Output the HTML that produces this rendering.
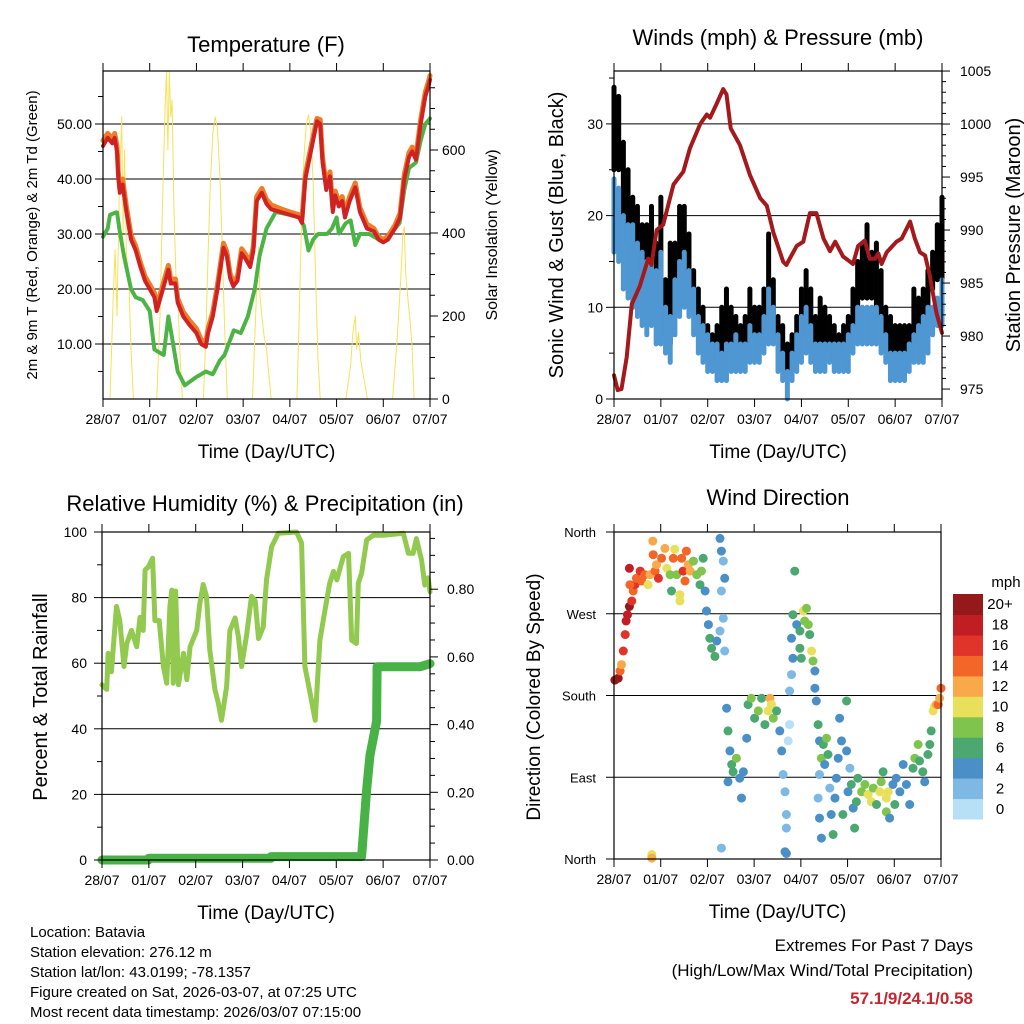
<!DOCTYPE html>
<html><head><meta charset="utf-8">
<style>
html,body{margin:0;padding:0;background:#fff;}
svg{display:block;font-family:"Liberation Sans",Arial,sans-serif;}
</style></head>
<body>
<svg id="chart" width="1024" height="1024" viewBox="0 0 1024 1024" xmlns="http://www.w3.org/2000/svg">
<rect x="0" y="0" width="1024" height="1024" fill="#fff"/>
<g font-size="15" fill="#000">
<text x="30" y="937">Location: Batavia</text>
<text x="30" y="957">Station elevation: 276.12 m</text>
<text x="30" y="977">Station lat/lon: 43.0199; -78.1357</text>
<text x="30" y="997">Figure created on Sat, 2026-03-07, at 07:25 UTC</text>
<text x="30" y="1017">Most recent data timestamp: 2026/03/07 07:15:00</text>
</g>
<g font-size="17" text-anchor="end">
<text x="973" y="951">Extremes For Past 7 Days</text>
<text x="973" y="976">(High/Low/Max Wind/Total Precipitation)</text>
<text x="973" y="1004" fill="#c1272d" font-weight="bold">57.1/9/24.1/0.58</text>
</g>
</svg>
<script>
// ---------- DATA ----------
const dayLabels=["28/07","01/07","02/07","03/07","04/07","05/07","06/07","07/07"];
// Temperature
const tempT=[0,0.1,0.2,0.25,0.3,0.33,0.36,0.42,0.5,0.6,0.7,0.8,0.9,1.0,1.1,1.15,1.25,1.35,1.4,1.45,1.55,1.6,1.72,1.85,2.0,2.1,2.2,2.25,2.35,2.45,2.58,2.65,2.72,2.79,2.88,2.97,3.05,3.15,3.22,3.29,3.4,3.5,3.6,3.8,4.0,4.2,4.26,4.33,4.45,4.58,4.65,4.7,4.78,4.86,4.92,4.97,5.05,5.12,5.18,5.28,5.4,5.5,5.65,5.8,5.9,6.0,6.1,6.25,6.36,6.45,6.55,6.62,6.7,6.8,6.9,6.97,7.0];
const tempRed=[46,47.5,46.5,47.5,45,40,37.5,39,34,29,27,24,21.5,20,18.5,16,19,22,23.5,21,21,17.5,15,13.5,12,10,9.5,12,15,20,27.5,26,22,20.5,21.5,26.5,25.5,24,27,36,37.5,35.5,34.5,34,33.5,33,32,40,45,50.5,50,43,38,40.5,34,37,35,36,33,36,38.5,34,31,30.5,29,28.5,29,31,33,40,44,45,43.5,50,55,57,58];
const tempOrange=[47,48.3,47.3,48.3,46,41,38.3,40,35,29.8,27.8,24.8,22.3,20.8,19.3,16.8,19.8,22.8,24.3,21.8,21.8,18.3,15.8,14.3,12.8,10.8,10.3,12.8,15.8,20.8,28.3,26.8,22.8,21.3,22.3,27.3,26.3,24.8,27.8,36.8,38.3,36.3,35.3,34.6,34,33.5,32.8,40.8,45.8,51,50.8,43.8,38.8,41.3,34.8,37.8,35.8,36.8,33.8,36.8,39.3,34.8,31.8,31,29.5,29,29.6,31.6,33.8,40.8,44.8,45.8,44.3,50.8,55.8,57.8,58.8];
const dewT=[0,0.1,0.15,0.3,0.35,0.45,0.6,0.7,0.85,1.0,1.1,1.3,1.4,1.5,1.6,1.75,2.0,2.2,2.35,2.5,2.6,2.8,2.95,3.1,3.25,3.35,3.5,3.7,4.0,4.2,4.3,4.4,4.5,4.6,4.8,4.9,5.0,5.05,5.2,5.3,5.4,5.5,5.7,5.9,6.0,6.2,6.35,6.45,6.55,6.7,6.8,6.9,7.0];
const dewVals=[29.5,31,33.5,34,31,26,20,18.5,18,16,9,8,15,10,5,2.5,4,5,4.5,7,8,12.5,12,15,20,26,31,34,33.5,33,31.5,27,29,30,30,31,33,30,32,32.5,28,30,30,29,28.5,30.5,32,38,42,43,47,50,51];
const solarT=[0,0.15,0.22,0.26,0.3,0.35,0.4,0.43,0.46,0.5,0.55,0.6,0.65,1.15,1.22,1.28,1.33,1.36,1.39,1.42,1.45,1.48,1.52,1.56,1.6,1.65,1.7,2.15,2.2,2.25,2.3,2.35,2.4,2.45,2.5,2.55,2.6,2.66,3.2,3.25,3.3,3.33,3.36,3.4,3.45,3.5,3.55,3.6,4.15,4.2,4.25,4.3,4.35,4.4,4.45,4.5,4.55,4.6,4.65,5.2,5.3,5.35,5.4,5.43,5.47,5.52,5.6,5.66,6.2,6.3,6.38,6.42,6.45,6.48,6.52,6.58,6.62,6.66,7.0];
const solarVals=[0,0,250,360,200,500,680,400,600,350,300,120,0,0,200,500,700,790,600,790,680,720,450,300,250,100,0,0,150,350,520,640,680,650,540,380,180,0,0,150,300,365,250,200,150,120,60,0,0,200,420,580,660,685,640,520,300,100,0,0,80,160,200,120,160,90,40,0,0,150,300,400,415,300,250,180,120,0,0];
// Winds & pressure
const windT=[0,0.1,0.2,0.3,0.4,0.5,0.6,0.7,0.8,0.9,1.0,1.1,1.2,1.3,1.4,1.5,1.6,1.7,1.8,1.9,2.0,2.1,2.2,2.3,2.4,2.5,2.6,2.7,2.8,2.9,3.0,3.1,3.2,3.3,3.4,3.5,3.6,3.7,3.8,3.9,4.0,4.1,4.2,4.3,4.4,4.5,4.6,4.7,4.8,4.9,5.0,5.1,5.2,5.3,5.4,5.5,5.6,5.7,5.8,5.9,6.0,6.1,6.2,6.3,6.4,6.5,6.6,6.7,6.8,6.9,7.0];
const windLo=[16,15,12,11,10,9,8,7,8,6,6,5,4,7,9,10,9,7,5,4,3,3,2,2,2,3,3,3,3,4,4,4,5,6,6,3,2,0,2,3,4,5,4,3,3,3,4,3,3,3,3,5,6,6,6,6,6,5,4,2,2,2,2,3,4,4,4,5,7,8,8];
const windHi=[24,23,20,19,19,17,16,15,15,14,16,10,9,13,15,16,14,12,9,8,7,6,6,5,6,6,7,6,6,8,7,7,9,12,10,7,5,3,5,7,9,10,8,6,6,6,6,6,6,6,7,8,10,10,10,10,10,9,7,5,5,5,5,6,7,8,9,10,10,11,13];
const gustLo=[25,25,20,17,16,15,13,12,12,10,10,7,6,10,14,16,13,10,8,7,5,5,4,5,6,6,6,4,5,7,7,6,8,9,8,5,4,3,4,5,7,8,7,5,6,6,5,5,5,5,6,8,10,11,11,11,10,9,6,5,5,5,4,5,6,7,7,9,12,13,12];
const gustHi=[34,33,28,25,22,21,19,19,21,17,22,13,17,17,21,21,18,14,12,10,8,7,8,10,12,10,9,8,9,12,10,10,12,18,13,9,8,6,7,9,12,14,12,9,11,10,9,8,7,8,9,12,15,17,19,16,17,14,10,9,8,8,8,8,12,11,12,14,16,19,22];
const presT=[0,0.08,0.16,0.27,0.38,0.55,0.73,0.8,0.91,1.05,1.27,1.48,1.62,1.84,1.98,2.05,2.19,2.33,2.4,2.49,2.69,2.9,3.12,3.26,3.4,3.61,3.68,3.75,3.9,4.04,4.18,4.32,4.47,4.61,4.72,4.89,5.04,5.1,5.21,5.35,5.46,5.57,5.64,5.71,5.82,6.03,6.14,6.32,6.42,6.53,6.64,6.74,6.88,7.0];
const presVals=[976.3,974.9,975,978,983,984.7,987.3,986.7,990,990.5,994.3,995.5,997.7,1000,1000.9,1000.6,1001.9,1003.3,1002.8,999.6,998,995.2,993,992.3,989.8,987,986.7,987.3,988.5,988.9,991.6,991.6,989.2,988,988.9,987.5,987,986.8,988.5,989,987.3,987.3,987.8,986.8,987.9,988.9,989.2,990.8,989.2,987.9,987.6,985.7,982.2,980.3];
// RH & precip
const rhT=[0,0.1,0.13,0.2,0.31,0.38,0.47,0.53,0.63,0.74,0.81,0.88,0.92,0.99,1.08,1.13,1.22,1.31,1.38,1.45,1.49,1.52,1.57,1.63,1.74,1.81,1.88,2.02,2.09,2.16,2.23,2.3,2.41,2.48,2.55,2.66,2.73,2.84,2.91,2.98,3.09,3.19,3.27,3.34,3.44,3.51,3.62,3.76,4.15,4.26,4.33,4.44,4.55,4.65,4.76,4.86,4.94,5.01,5.15,5.26,5.33,5.43,5.47,5.54,5.65,5.79,6.0,6.43,6.54,6.64,6.71,6.82,6.89,6.96,7.0];
const rhVals=[53.4,52,63,57.4,77.3,73,59,66,70,65,74,70,88.4,89.4,92,73,73,59,53.9,77.3,82.3,53.9,82,53.4,63,55,65,70,78.3,84,80.4,64,52,48,42.6,52.8,70,73.8,68,59,69,80.4,79,67.5,71,85.4,95.5,99.6,100,96.6,59,51,42.6,67,76.2,84.4,88,85.4,92.5,93.5,67,66,84.4,87.4,97.6,99,99,99.6,93.5,93.5,98,91.4,83.8,86,81.8];
const prT=[0,0.99,1.0,3.6,3.61,5.54,5.65,5.72,5.86,5.87,6.0,6.79,7.0];
const prVals=[0,0,0.005,0.005,0.01,0.01,0.21,0.31,0.41,0.571,0.571,0.571,0.58];
// Wind direction scatter
const wdT=[0.02,0.09,0.13,0.16,0.2,0.24,0.26,0.29,0.33,0.38,0.41,0.45,0.34,0.33,0.48,0.56,0.59,0.66,0.73,0.77,0.83,0.84,0.88,0.91,0.95,1.02,1.09,1.13,1.2,1.23,1.27,1.3,1.34,1.41,1.41,1.45,1.48,1.52,1.55,1.59,1.63,1.7,1.77,1.84,1.91,1.87,1.95,1.98,2.02,2.05,2.09,2.16,2.2,2.27,2.3,2.34,2.37,2.3,2.34,2.27,2.37,2.41,2.44,2.48,2.52,2.44,2.55,2.62,2.69,2.73,2.77,2.84,2.87,2.94,3.01,3.09,3.16,3.23,3.3,3.34,3.37,3.41,3.48,3.55,3.59,3.62,3.66,3.69,3.69,3.69,3.76,3.76,3.8,3.73,3.83,3.8,3.83,3.87,3.91,3.98,4.05,4.08,4.12,4.16,3.98,4.01,4.19,4.23,4.26,4.3,4.3,4.33,4.37,4.4,4.44,4.48,4.51,4.55,4.58,4.4,4.37,4.4,4.44,4.62,4.65,4.69,4.73,4.76,4.8,4.83,4.87,4.9,4.98,4.98,5.01,5.05,5.08,5.12,5.15,5.19,5.22,5.3,5.37,5.44,5.51,5.55,5.62,5.69,5.72,5.76,5.83,5.83,5.87,5.9,5.97,6.01,6.04,6.12,6.19,6.26,6.33,6.4,6.44,6.51,6.54,6.61,6.65,6.72,6.76,6.79,6.83,6.86,6.9,6.94,6.97,7.0,0.81,0.81,2.3,3.66];
const wdDir=[197,199,207,214,229,247,262,269,278,284,295,302,302,320,309,317,306,313,302,313,350,335,317,324,309,331,342,320,313,295,331,341,313,291,284,331,317,306,339,324,317,328,313,302,331,317,295,273,258,243,232,223,240,353,339,328,309,295,265,251,229,166,141,119,104,85,96,111,89,67,96,133,170,177,155,163,177,148,163,177,170,155,163,141,119,93,74,49,34,6,148,185,203,130,221,243,269,317,258,251,273,262,276,258,232,221,247,229,218,207,188,174,148,130,111,126,104,133,115,93,67,45,23,78,49,27,67,89,111,155,130,49,174,119,74,100,82,56,34,63,89,74,82,71,63,78,60,74,85,96,52,67,74,45,82,60,89,74,104,82,60,100,111,126,108,96,85,115,126,141,163,168,170,170,177,188,5,1,12,8];
const wdSpd=[20,20,14,12,16,16,18,18,20,16,14,16,14,18,14,16,14,14,10,12,12,14,14,12,16,14,12,10,8,6,14,10,8,10,10,14,16,14,14,12,12,8,8,6,6,8,4,4,4,6,6,6,4,4,4,2,4,2,2,2,2,4,6,4,6,4,6,8,4,4,4,4,6,8,6,8,6,6,10,12,10,8,6,4,4,2,2,2,2,4,0,2,2,0,4,4,6,6,4,6,10,8,8,8,6,6,6,10,8,4,4,4,6,4,8,6,4,8,6,2,2,4,4,2,4,6,4,4,4,4,4,6,6,4,4,2,6,4,6,6,6,8,8,10,10,8,6,10,8,6,8,10,10,4,4,6,4,4,4,4,4,6,8,8,6,6,4,6,6,6,10,10,12,14,12,14,10,12,2,4];
const speedColors=["#b7e0f6","#7db9e4","#4a8fc6","#4ba870","#7fc44d","#e8e05a","#f9a94a","#f26728","#e0332a","#c11d24","#95181b"];
const speedLabels=["0","2","4","6","8","10","12","14","16","18","20+"];

// ---------- DRAW ----------
const NS="http://www.w3.org/2000/svg";
const svg=document.getElementById("chart");
function mk(tag,parent){const e=document.createElementNS(NS,tag);parent.appendChild(e);return e;}
function line(p,x1,y1,x2,y2,st,w){const l=mk("line",p);l.setAttribute("x1",x1);l.setAttribute("y1",y1);l.setAttribute("x2",x2);l.setAttribute("y2",y2);l.setAttribute("stroke",st||"#000");l.setAttribute("stroke-width",w||1);return l;}
function txt(p,x,y,s,size,anchor,rot){const t=mk("text",p);t.setAttribute("x",x);t.setAttribute("y",y);t.setAttribute("font-size",size);t.setAttribute("text-anchor",anchor||"middle");if(rot)t.setAttribute("transform","rotate(-90 "+x+" "+y+")");t.textContent=s;return t;}
function poly(p,xs,ys,fx,fy,color,w,dash){const pl=mk("polyline",p);pl.setAttribute("points",xs.map((v,i)=>fx(v).toFixed(1)+","+fy(ys[i]).toFixed(1)).join(" "));pl.setAttribute("fill","none");pl.setAttribute("stroke",color);pl.setAttribute("stroke-width",w);pl.setAttribute("stroke-linejoin","round");pl.setAttribute("stroke-linecap","round");if(dash)pl.setAttribute("stroke-dasharray",dash);return pl;}

function frame(g,L,R,T,B,xf){
  const r=mk("rect",g);r.setAttribute("x",L);r.setAttribute("y",T);r.setAttribute("width",R-L);r.setAttribute("height",B-T);r.setAttribute("fill","none");r.setAttribute("stroke","#000");r.setAttribute("stroke-width","1.2");
  dayLabels.forEach((lab,i)=>{const x=xf(i);line(g,x,B,x,B+8);line(g,x,T,x,T-8);
    const t=txt(g,x,B+25,lab,14);
    
    });
  const xt=txt(g,(L+R)/2,B+59,"Time (Day/UTC)",19);
  
  
}

// Panel 1: Temperature
(function(){
  const g=mk("g",svg);
  
  
  const L=103,R=430,T=71,B=399;
  const x=d=>L+d*(R-L)/7, yT=v=>B-v*5.5, yS=v=>B-v*0.415;
  [10,20,30,40,50].forEach(v=>{line(g,L,yT(v),R,yT(v),"#000",1);});
  poly(g,solarT,solarVals,x,yS,"#f7e15a",1);
  poly(g,dewT,dewVals,x,yT,"#4cb445",4,"3 1.5");
  poly(g,tempT,tempOrange,x,yT,"#f07c28",5);
  poly(g,tempT,tempRed,x,yT,"#cf2222",4);
  frame(g,L,R,T,B,x);
  [10,20,30,40,50].forEach(v=>{line(g,L-8,yT(v),L,yT(v));const t=txt(g,L-11,yT(v)+5,v.toFixed(2),14,"end");
    
    });
  [5,15,25,35,45,55].forEach(v=>line(g,L-5,yT(v),L,yT(v)));
  [0,200,400,600].forEach(v=>{line(g,R,yS(v),R+8,yS(v));const t=txt(g,R+12,yS(v)+5,String(v),14,"start");
    
    });
  for(let v=50;v<790;v+=50){if(v%200)line(g,R,yS(v),R+5,yS(v));}
  const t1=txt(g,266,52,"Temperature (F)",22);
  
  
  const t2=txt(g,37,235,"2m & 9m T (Red, Orange) & 2m Td (Green)",15,"middle",true);
  
  
  const t3=txt(g,497,235,"Solar Insolation (Yellow)",16,"middle",true);
  
  
})();

// Panel 2: Winds & Pressure
(function(){
  const g=mk("g",svg);
  
  
  const L=614,R=942,T=71,B=399;
  const x=d=>L+d*(R-L)/7, yW=v=>B-v*9.17, yP=p=>B-(p-974.06)*10.6;
  [10,20,30].forEach(v=>line(g,L,yW(v),R,yW(v),"#000",1));
  const gg=mk("g",g);
  
  
  windT.forEach((d,i)=>{const l=line(gg,x(d),yW(gustLo[i]),x(d),yW(gustHi[i]),"#000",5);l.setAttribute("stroke-linecap","round");
    });
  const gb=mk("g",g);
  
  
  windT.forEach((d,i)=>{const l=line(gb,x(d),yW(windLo[i]),x(d),yW(windHi[i]),"#4f97d2",5);l.setAttribute("stroke-linecap","round");
    });
  poly(g,presT,presVals,x,yP,"#a3191c",4);
  frame(g,L,R,T,B,x);
  [0,10,20,30].forEach(v=>{line(g,L-8,yW(v),L,yW(v));const t=txt(g,L-11,yW(v)+5,String(v),14,"end");
    
    });
  [5,15,25,35].forEach(v=>line(g,L-5,yW(v),L,yW(v)));
  [975,980,985,990,995,1000,1005].forEach(v=>{line(g,R,yP(v),R+8,yP(v));const t=txt(g,R+18,yP(v)+5,String(v),14,"start");
    
    });
  for(let v=975;v<1005;v++){if(v%5)line(g,R,yP(v),R+4,yP(v));}
  const t1=txt(g,778,45,"Winds (mph) & Pressure (mb)",22);
  
  
  const t2=txt(g,563,235,"Sonic Wind & Gust (Blue, Black)",20,"middle",true);
  
  
  const t3=txt(g,1020,235,"Station Pressure (Maroon)",20,"middle",true);
  
  
})();

// Panel 3: RH & Precip
(function(){
  const g=mk("g",svg);
  
  
  const L=102,R=430,T=532,B=860;
  const x=d=>L+d*(R-L)/7, yR=v=>B-v*3.28, yPr=v=>B-v*338.5;
  [20,40,60,80].forEach(v=>line(g,L,yR(v),R,yR(v),"#000",1));
  poly(g,rhT,rhVals,x,yR,"#92c94f",5);
  poly(g,prT,prVals,x,yPr,"#48b246",9);
  frame(g,L,R,T,B,x);
  [0,20,40,60,80,100].forEach(v=>{line(g,L-8,yR(v),L,yR(v));const t=txt(g,L-15,yR(v)+5,String(v),14,"end");
    
    });
  [10,30,50,70,90].forEach(v=>line(g,L-5,yR(v),L,yR(v)));
  [0,0.2,0.4,0.6,0.8].forEach(v=>{line(g,R,yPr(v),R+8,yPr(v));const t=txt(g,R+17,yPr(v)+5,v.toFixed(2),14,"start");
    
    });
  for(let k=1;k<20;k++){if(k%4)line(g,R,yPr(k*0.05),R+5,yPr(k*0.05));}
  const t1=txt(g,265,511,"Relative Humidity (%) & Precipitation (in)",22);
  
  
  const t2=txt(g,47,697,"Percent & Total Rainfall",20,"middle",true);
  
  
})();

// Panel 4: Wind direction
(function(){
  const g=mk("g",svg);
  
  
  const L=614,R=941,T=532,B=859;
  const x=d=>L+d*(R-L)/7, yD=v=>B-v*(B-T)/360;
  [90,180,270].forEach(v=>line(g,L,yD(v),R,yD(v),"#000",1));
  const sg=mk("g",g);
  
  
  wdT.forEach((d,i)=>{const c=mk("circle",sg);c.setAttribute("cx",x(d).toFixed(1));c.setAttribute("cy",yD(wdDir[i]).toFixed(1));c.setAttribute("r",4.5);
    c.setAttribute("fill",speedColors[Math.min(10,Math.floor(wdSpd[i]/2))]);
    
    });
  frame(g,L,R,T,B,x);
  [[0,"North"],[90,"East"],[180,"South"],[270,"West"],[360,"North"]].forEach(a=>{line(g,L-8,yD(a[0]),L,yD(a[0]));const t=txt(g,L-18,yD(a[0])+5,a[1],13,"end");
    
    });
  const t1=txt(g,778,505,"Wind Direction",22);
  
  
  const t2=txt(g,540,697,"Direction (Colored By Speed)",19,"middle",true);
  
  
  // colorbar
  const cb=mk("g",g);
  
  
  const cbT=594,cbH=225/11;
  speedColors.forEach((col,i)=>{const k=10-i;const r=mk("rect",cb);r.setAttribute("x",953);r.setAttribute("y",(cbT+k*cbH).toFixed(1));r.setAttribute("width",30);r.setAttribute("height",(cbH+0.5).toFixed(1));r.setAttribute("fill",col);
    
    const t=txt(cb,1000,cbT+k*cbH+cbH/2+5,speedLabels[i],15,"middle");
    
    });
  const mu=txt(cb,1006,587,"mph",15,"middle");
  
  
})();
</script>
</body></html>
